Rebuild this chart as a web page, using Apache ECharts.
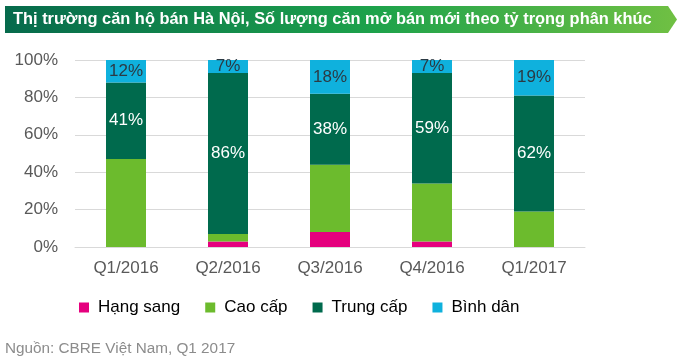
<!DOCTYPE html>
<html>
<head>
<meta charset="utf-8">
<script src="https://cdn.jsdelivr.net/npm/echarts@6/dist/echarts.min.js"></script>
<style>html,body{margin:0;padding:0;background:#fff}#c{width:681px;height:359px}</style>
</head>
<body>
<div id="c"></div>
<script>
var categories = ['Q1/2016', 'Q2/2016', 'Q3/2016', 'Q4/2016', 'Q1/2017'];
var hangSang = [0, 3, 8, 3, 0];
var caoCap = [47, 4, 36, 31, 19];
var trungCap = [41, 86, 38, 59, 62];
var binhDan = [12, 7, 18, 7, 19];
var yTicks = [0, 20, 40, 60, 80, 100];

var FONT = '"Liberation Sans", Arial, sans-serif';
var chart = echarts.init(document.getElementById('c'), null, {renderer: 'canvas'});

function lbl(color) {
  return {
    show: true, position: 'inside', color: color, fontSize: 17, fontFamily: FONT,
    formatter: function (p) { return p.value + '%'; }
  };
}

chart.setOption({
  animation: false,
  textStyle: {fontFamily: FONT},
  graphic: [
    {
      type: 'polygon',
      shape: {points: [[5, 6], [668, 6], [677, 19.5], [668, 33], [5, 33]]},
      style: {
        fill: new echarts.graphic.LinearGradient(0, 0, 1, 0, [
          {offset: 0, color: '#066a4c'},
          {offset: 0.55, color: '#1da24b'},
          {offset: 1, color: '#70c043'}
        ])
      }
    },
    {
      type: 'text', left: 13, top: 11,
      style: {
        text: 'Thị trường căn hộ bán Hà Nội, Số lượng căn mở bán mới theo tỷ trọng phân khúc',
        fill: '#fff', font: 'bold 16.4px ' + FONT
      }
    },
    {
      type: 'text', left: 5, top: 341,
      style: {text: 'Nguồn: CBRE Việt Nam, Q1 2017', fill: '#8c8c8c', font: '15.3px ' + FONT}
    }
  ],
  legend: {
    left: 74, top: 294, itemWidth: 10, itemHeight: 10, itemGap: 25, icon: 'rect',
    textStyle: {fontSize: 17, color: '#000', fontFamily: FONT, padding: [0, 0, 0, 4]},
    data: ['Hạng sang', 'Cao cấp', 'Trung cấp', 'Bình dân']
  },
  grid: {left: 75, right: 96, top: 60, bottom: 112, containLabel: false},
  xAxis: {
    type: 'category', data: categories,
    axisLine: {lineStyle: {color: '#d9d9d9'}},
    axisTick: {show: false},
    axisLabel: {color: '#595959', fontSize: 17, margin: 13, fontFamily: FONT}
  },
  yAxis: {
    type: 'value', min: yTicks[0], max: yTicks[yTicks.length - 1], interval: 20,
    axisLine: {show: false}, axisTick: {show: false},
    axisLabel: {color: '#595959', fontSize: 17, margin: 17, fontFamily: FONT, formatter: '{value}%'},
    splitLine: {lineStyle: {color: '#d9d9d9'}}
  },
  series: [
    {name: 'Hạng sang', type: 'bar', stack: 's', barWidth: 40, data: hangSang, itemStyle: {color: '#e5007e'}},
    {name: 'Cao cấp', type: 'bar', stack: 's', barWidth: 40, data: caoCap, itemStyle: {color: '#6cbb2d'}},
    {name: 'Trung cấp', type: 'bar', stack: 's', barWidth: 40, data: trungCap, itemStyle: {color: '#006a4d'}, label: lbl('#ffffff')},
    {name: 'Bình dân', type: 'bar', stack: 's', barWidth: 40, data: binhDan, itemStyle: {color: '#0fb1dd'}, label: lbl('#2b3a44')}
  ]
});
</script>
</body>
</html>
